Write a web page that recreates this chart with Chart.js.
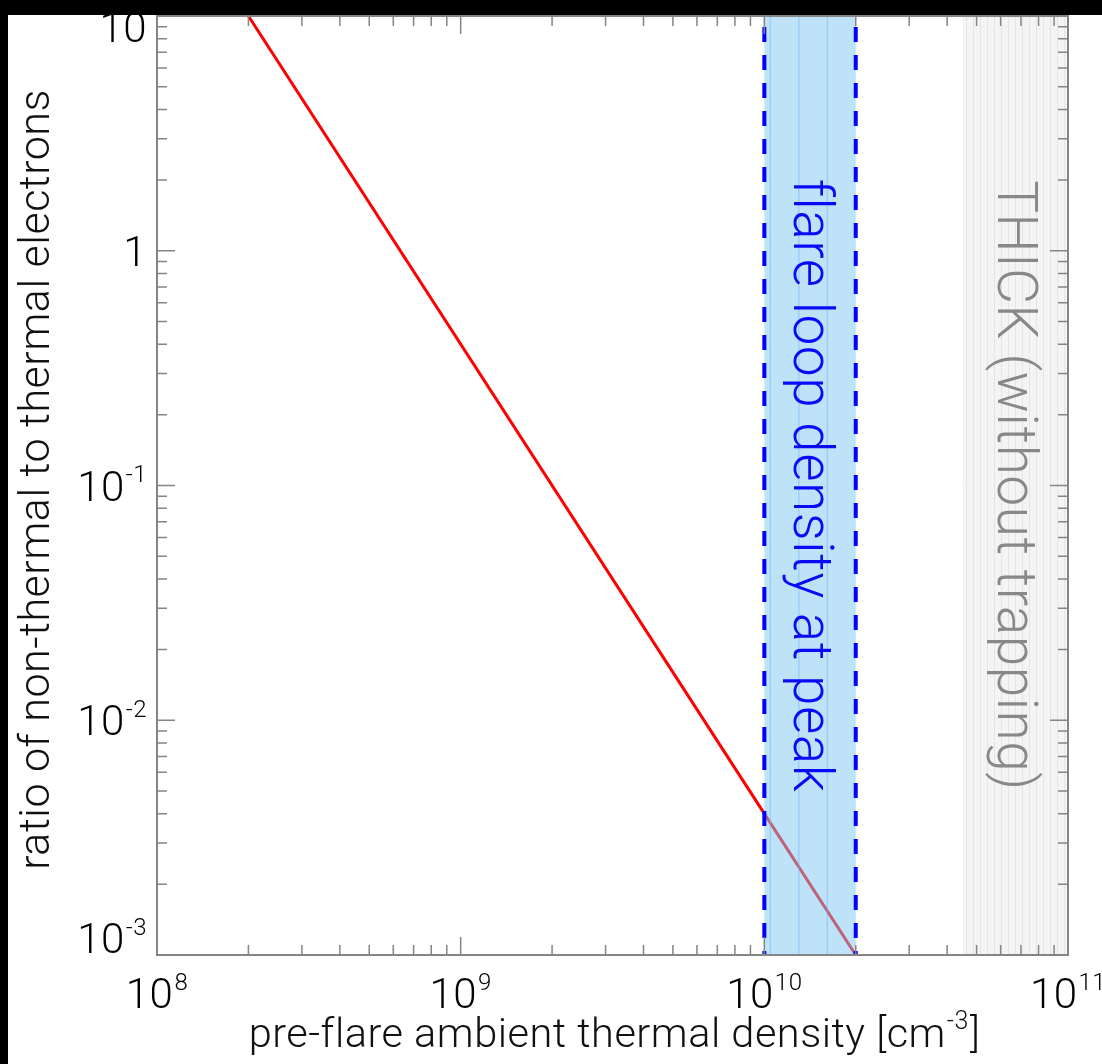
<!DOCTYPE html>
<html>
<head>
<meta charset="utf-8">
<script src="https://cdn.jsdelivr.net/npm/chart.js@4"></script>
<style>
  html, body { margin:0; padding:0; background:#000; }
  #wrap { position:absolute; left:8px; top:15px; width:1094px; height:1049px; background:#fff; overflow:hidden; }
  canvas { display:block; }
</style>
</head>
<body>
<div id="wrap"><canvas id="chart" width="1094" height="1049"></canvas></div>
<script>
// axis ranges
const xRange = [1e8, 1e11];
const yRange = [1e-3, 10];

// red curve: ratio of non-thermal to thermal electrons vs density
const densityX = [2e8, 1e10, 2e10];
const ratioY   = [10, 4e-3, 1e-3];

// shaded regions
const flareBand = [1e10, 2e10];
const thickBand = [4.5e10, 1e11];
const flareLabel = 'flare loop density at peak';
const thickLabel = 'THICK (without trapping)';

// tick labels (base, exponent)
const xTickValues = [1e8, 1e9, 1e10, 1e11];
const xTickLabels = [['10','8'], ['10','9'], ['10','10'], ['10','11']];
const yTickValues = [1e-3, 1e-2, 1e-1, 1, 10];
const yTickLabels = [['10','-3'], ['10','-2'], ['10','-1'], ['1',''], ['10','']];

const xTitle = ['pre-flare ambient thermal density [cm', '-3', ']'];
const yTitle = 'ratio of non-thermal to thermal electrons';

const FONT = 'Roboto, "Open Sans", sans-serif';
const W = '300 ';
const AXIS = '#858585';

function powText(ctx, base, exp, x, y, size, align){
  // draws base with raised exponent; x is the anchor given by align
  ctx.font = W + size + 'px ' + FONT;
  const wb = ctx.measureText(base).width;
  const ss = Math.round(size * 0.58);
  ctx.font = W + ss + 'px ' + FONT;
  const we = exp ? ctx.measureText(exp).width + 1 : 0;
  const w = wb + we;
  let x0 = x;
  if (align === 'center') x0 = x - w/2;
  if (align === 'right')  x0 = x - w;
  ctx.textAlign = 'left';
  ctx.textBaseline = 'alphabetic';
  ctx.font = W + size + 'px ' + FONT;
  ctx.fillText(base, x0, y);
  if (exp){
    ctx.font = W + ss + 'px ' + FONT;
    ctx.fillText(exp, x0 + wb + 1, y - size*0.43);
  }
}

const bandsUnder = {
  id:'bandsUnder',
  beforeDatasetsDraw(chart){
    const {ctx, chartArea:a, scales:{x}} = chart;
    ctx.save();
    const l = x.getPixelForValue(thickBand[0]);
    const r = Math.min(x.getPixelForValue(thickBand[1]), a.right);
    ctx.fillStyle = '#f4f4f4';
    ctx.fillRect(l, a.top, r - l, a.bottom - a.top);
    ctx.strokeStyle = '#e5e5e5';
    ctx.lineWidth = 1;
    for (let px = l + 3; px < r; px += 7){
      ctx.beginPath();
      ctx.moveTo(Math.round(px)+0.5, a.top);
      ctx.lineTo(Math.round(px)+0.5, a.bottom);
      ctx.stroke();
    }
    ctx.restore();
  }
};

const bandsOver = {
  id:'bandsOver',
  afterDatasetsDraw(chart){
    const {ctx, chartArea:a, scales:{x}} = chart;
    ctx.save();
    ctx.letterSpacing = '0.5px';
    const l = x.getPixelForValue(flareBand[0]);
    const r = x.getPixelForValue(flareBand[1]);
    ctx.fillStyle = 'rgba(125,200,244,0.5)';
    ctx.fillRect(l, a.top, r - l, a.bottom - a.top);
    ctx.strokeStyle = 'rgba(110,185,240,0.45)';
    ctx.lineWidth = 1.5;
    const step = (r - l - 6) / 3;
    for (let px = l + 6; px < r - 2; px += step){
      ctx.beginPath();
      ctx.moveTo(px, a.top);
      ctx.lineTo(px, a.bottom);
      ctx.stroke();
    }
    ctx.strokeStyle = '#0000ff';
    ctx.lineWidth = 4;
    ctx.setLineDash([15, 13]);
    ctx.lineDashOffset = 17;
    [l, r].forEach(px => {
      ctx.beginPath();
      ctx.moveTo(px, a.top);
      ctx.lineTo(px, a.bottom);
      ctx.stroke();
    });
    ctx.setLineDash([]);

    // band labels, rotated to read top to bottom
    const cy = (a.top + a.bottom) / 2;
    ctx.textAlign = 'center';
    ctx.textBaseline = 'alphabetic';
    ctx.save();
    ctx.translate(l + 30, cy);
    ctx.rotate(Math.PI/2);
    ctx.fillStyle = '#0a0af5';
    ctx.font = W + '55px ' + FONT;
    ctx.fillText(flareLabel, 0, 0);
    ctx.restore();

    const tl = x.getPixelForValue(thickBand[0]);
    ctx.save();
    ctx.translate(tl + 35, cy);
    ctx.rotate(Math.PI/2);
    ctx.fillStyle = '#888888';
    ctx.font = W + '55px ' + FONT;
    ctx.fillText(thickLabel, 0, 0);
    ctx.restore();
    ctx.restore();
  }
};

const frameAndTicks = {
  id:'frameAndTicks',
  afterDraw(chart){
    const {ctx, chartArea:a, scales:{x, y}} = chart;
    ctx.save();
    ctx.letterSpacing = '0.5px';
    ctx.strokeStyle = AXIS;
    ctx.lineWidth = 2;
    ctx.strokeRect(a.left, a.top, a.right - a.left, a.bottom - a.top);
    ctx.lineWidth = 1.5;
    // x ticks (bottom and top, pointing inward)
    for (let e = 8; e < 11; e++){
      for (let k = 1; k <= 9; k++){
        const px = x.getPixelForValue(k * Math.pow(10, e));
        const len = k === 1 ? 18 : 10;
        ctx.beginPath();
        ctx.moveTo(px, a.bottom); ctx.lineTo(px, a.bottom - len);
        ctx.moveTo(px, a.top);    ctx.lineTo(px, a.top + len);
        ctx.stroke();
      }
    }
    // y ticks (left and right, pointing inward)
    for (let e = -3; e < 1; e++){
      for (let k = 1; k <= 9; k++){
        const py = y.getPixelForValue(k * Math.pow(10, e));
        const len = k === 1 ? 18 : 10;
        ctx.beginPath();
        ctx.moveTo(a.left, py);  ctx.lineTo(a.left + len, py);
        ctx.moveTo(a.right, py); ctx.lineTo(a.right - len, py);
        ctx.stroke();
      }
    }

    ctx.fillStyle = '#000';
    // x tick labels
    xTickValues.forEach((v, i) => {
      powText(ctx, xTickLabels[i][0], xTickLabels[i][1], x.getPixelForValue(v), a.bottom + 53, 42, 'center');
    });
    // y tick labels, end labels kept inside the frame
    yTickValues.forEach((v, i) => {
      let cy = y.getPixelForValue(v);
      cy = Math.max(a.top + 11, Math.min(a.bottom - 17, cy));
      powText(ctx, yTickLabels[i][0], yTickLabels[i][1], a.left - 10, cy + 15, 42, 'right');
    });

    // x title
    ctx.fillStyle = '#111';
    const cx = (a.left + a.right) / 2;
    const ts = 41.5, es = 25;
    ctx.font = W + ts + 'px ' + FONT;
    const w1 = ctx.measureText(xTitle[0]).width;
    ctx.font = W + es + 'px ' + FONT;
    const w2 = ctx.measureText(xTitle[1]).width;
    ctx.font = W + ts + 'px ' + FONT;
    const w3 = ctx.measureText(xTitle[2]).width;
    let tx = cx - (w1 + w2 + w3 + 2) / 2 + 2;
    const ty = a.bottom + 92;
    ctx.textAlign = 'left';
    ctx.fillText(xTitle[0], tx, ty);
    ctx.font = W + es + 'px ' + FONT;
    ctx.fillText(xTitle[1], tx + w1 + 1, ty - 18);
    ctx.font = W + ts + 'px ' + FONT;
    ctx.fillText(xTitle[2], tx + w1 + w2 + 2, ty);

    // y title
    ctx.save();
    ctx.translate(41, (a.top + a.bottom) / 2 - 6);
    ctx.rotate(-Math.PI/2);
    ctx.textAlign = 'center';
    ctx.font = W + '43px ' + FONT;
    ctx.fillText(yTitle, 0, 0);
    ctx.restore();
    ctx.restore();
  }
};

new Chart(document.getElementById('chart'), {
  type:'line',
  data:{
    datasets:[{
      data: densityX.map((d, i) => ({x:d, y:ratioY[i]})),
      borderColor:'#ff0000',
      borderWidth:3,
      pointRadius:0,
      tension:0,
      fill:false
    }]
  },
  options:{
    responsive:false,
    animation:false,
    layout:{ padding:{ left:149, top:1, right:34, bottom:109 } },
    plugins:{ legend:{ display:false }, tooltip:{ enabled:false } },
    scales:{
      x:{ type:'logarithmic', min:xRange[0], max:xRange[1], display:false },
      y:{ type:'logarithmic', min:yRange[0], max:yRange[1], display:false }
    }
  },
  plugins:[bandsUnder, bandsOver, frameAndTicks]
});
</script>
</body>
</html>
